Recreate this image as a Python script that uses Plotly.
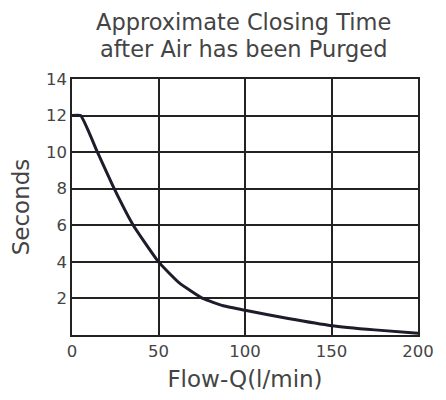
import plotly.graph_objects as go

flow = [0, 5, 14.7, 24.4, 35.4, 50, 62, 75.6, 87.5, 100, 125, 150, 175, 200]
seconds = [12, 12, 10, 8, 6, 4, 2.85, 2, 1.6, 1.35, 0.9, 0.51, 0.28, 0.1]

x_ticks = [0, 50, 100, 150, 200]
y_ticks = [2, 4, 6, 8, 10, 12, 14]

title_lines = ["Approximate Closing Time", "after Air has been Purged"]

fig = go.Figure()
fig.add_trace(go.Scatter(x=flow, y=seconds, mode="lines",
                         line=dict(color="#1c1c2a", width=3, shape="spline", smoothing=0.4),
                         showlegend=False, hoverinfo="skip"))

font_family = "'DejaVu Sans', sans-serif"
txt = "#444444"
plot_h = 260.5
fig.update_layout(
    width=438, height=392,
    margin=dict(l=58, r=17, t=71, b=60.5),
    paper_bgcolor="white", plot_bgcolor="white",
    font=dict(family=font_family, color=txt),
)
for i, line in enumerate(title_lines):
    fig.add_annotation(text=line, xref="paper", yref="paper", x=0.495, y=1 + (58 - 27 * i) / plot_h,
                       xanchor="center", yanchor="middle", showarrow=False,
                       font=dict(family=font_family, size=22.5, color=txt))

fig.update_xaxes(range=[0, 200], tickvals=x_ticks, ticktext=[str(v) for v in x_ticks],
                 showgrid=True, gridcolor="#222222", gridwidth=1.5,
                 showline=True, linecolor="#222222", linewidth=1.5, mirror=True,
                 zeroline=False, ticks="", tickfont=dict(size=16.5, color=txt),
                 title=dict(text="Flow-Q(l/min)", font=dict(size=23, color=txt), standoff=11))
fig.update_yaxes(range=[0, 14], tickvals=y_ticks, ticktext=[str(v) for v in y_ticks],
                 showgrid=True, gridcolor="#222222", gridwidth=1.5,
                 showline=True, linecolor="#222222", linewidth=1.5, mirror=True,
                 zeroline=False, ticks="", tickfont=dict(size=16.5, color=txt),
                 title=dict(text="Seconds", font=dict(size=23, color=txt), standoff=10))

fig.write_html("out.html")
